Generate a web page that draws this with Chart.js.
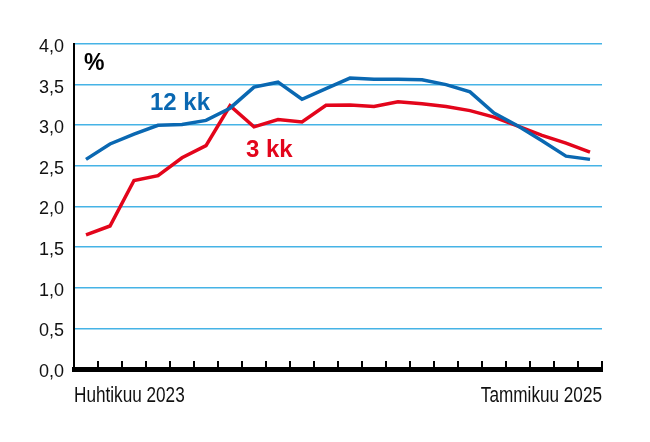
<!DOCTYPE html>
<html>
<head>
<meta charset="utf-8">
<script src="https://cdn.jsdelivr.net/npm/chart.js@4"></script>
<style>
  html, body { margin: 0; padding: 0; background: #fff; }
  #wrap { width: 650px; height: 442px; position: relative; }
</style>
</head>
<body>
<div id="wrap"><canvas id="chart"></canvas></div>
<script>
const months = [
  "2023-04", "2023-05", "2023-06", "2023-07", "2023-08", "2023-09", "2023-10", "2023-11", "2023-12",
  "2024-01", "2024-02", "2024-03", "2024-04", "2024-05", "2024-06", "2024-07", "2024-08", "2024-09",
  "2024-10", "2024-11", "2024-12", "2025-01",
];
const rate12 = [
  2.58, 2.77, 2.89, 3.00, 3.01, 3.06, 3.21, 3.47, 3.53, 3.32, 3.45,
  3.58, 3.565, 3.565, 3.56, 3.50, 3.41, 3.15, 2.99, 2.81, 2.62, 2.58,
];
const rate3 = [
  1.65, 1.76, 2.32, 2.38, 2.60, 2.75, 3.24, 2.98, 3.07, 3.04, 3.245,
  3.25, 3.23, 3.29, 3.265, 3.23, 3.18, 3.10, 2.99, 2.875, 2.78, 2.67,
];
const yTickLabels = ["0,0", "0,5", "1,0", "1,5", "2,0", "2,5", "3,0", "3,5", "4,0"];
const xEndLabels = ["Huhtikuu 2023", "Tammikuu 2025"];

const BLUE = "#0a68b2";
const RED = "#e3051b";
const GRID = "#46b3e6";

// narrow text: no condensed font installed, so squeeze horizontally
function narrowText(ctx, text, x, y, align) {
  const squeeze = 0.78;
  const w = ctx.measureText(text).width * squeeze;
  const left = align === "right" ? x - w : x;
  ctx.save();
  ctx.translate(left, y);
  ctx.scale(squeeze, 1);
  ctx.textAlign = "left";
  ctx.fillText(text, 0, 0);
  ctx.restore();
}

// axis ticks pointing up, end labels and series names
const decorations = {
  id: "decorations",
  afterDraw(chart) {
    const { ctx, chartArea, scales } = chart;
    const x = scales.x;
    const half = (x.getPixelForValue(1) - x.getPixelForValue(0)) / 2;
    ctx.save();
    ctx.strokeStyle = "#000";
    ctx.lineWidth = 2;
    for (let i = 0; i <= months.length; i++) {
      const px = Math.round(x.getPixelForValue(i) - half);
      ctx.beginPath();
      ctx.moveTo(px, chartArea.bottom);
      ctx.lineTo(px, chartArea.bottom - 8);
      ctx.stroke();
    }

    ctx.fillStyle = "#111";
    ctx.font = "22px 'Liberation Sans', sans-serif";
    ctx.textBaseline = "alphabetic";
    narrowText(ctx, xEndLabels[0], chartArea.left, 402, "left");
    narrowText(ctx, xEndLabels[1], chartArea.right, 402, "right");

    ctx.textAlign = "left";
    ctx.fillStyle = "#000";
    ctx.font = "bold 23px 'Liberation Sans', sans-serif";
    ctx.fillText("%", 84, 70);

    ctx.fillStyle = BLUE;
    ctx.font = "bold 24px 'Liberation Sans', sans-serif";
    ctx.fillText("12 kk", 150, 110);

    ctx.fillStyle = RED;
    ctx.font = "bold 24px 'Liberation Sans', sans-serif";
    ctx.fillText("3 kk", 246, 157);
    ctx.restore();
  },
};

new Chart(document.getElementById("chart"), {
  type: "line",
  data: {
    labels: months,
    datasets: [
      {
        label: "12 kk",
        data: rate12,
        borderColor: BLUE,
        borderWidth: 3.5,
        pointRadius: 0,
        tension: 0,
      },
      {
        label: "3 kk",
        data: rate3,
        borderColor: RED,
        borderWidth: 3.5,
        pointRadius: 0,
        tension: 0,
      },
    ],
  },
  options: {
    responsive: true,
    maintainAspectRatio: false,
    animation: false,
    layout: { padding: { left: 0, right: 48, top: 44, bottom: 73 } },
    plugins: {
      legend: { display: false },
      tooltip: { enabled: false },
    },
    scales: {
      x: {
        offset: true,
        grid: { display: false, offset: true },
        ticks: { display: false },
        border: { display: true, color: "#000", width: 5 },
        afterFit(scale) {
          scale.height = 0;
        },
      },
      y: {
        min: 0,
        max: 4,
        ticks: {
          stepSize: 0.5,
          color: "#111",
          padding: 10,
          labelOffset: 3,
          font: { family: "'Liberation Sans', sans-serif", size: 18 },
          callback: (value, index) => yTickLabels[index],
        },
        grid: { color: GRID, lineWidth: 1.6, drawTicks: false },
        border: { display: true, color: "#000", width: 2 },
        afterFit(scale) {
          scale.width = 74;
        },
      },
    },
  },
  plugins: [decorations],
});
</script>
</body>
</html>
